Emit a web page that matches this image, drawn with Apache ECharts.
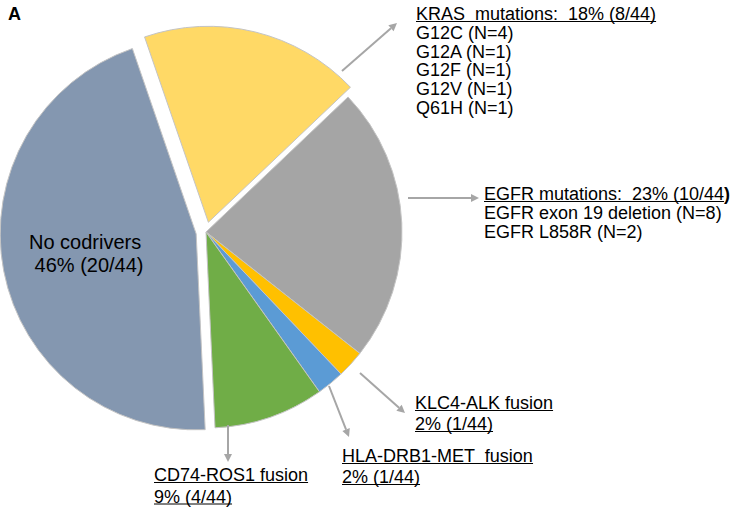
<!DOCTYPE html>
<html>
<head>
<meta charset="utf-8">
<script src="https://cdn.jsdelivr.net/npm/echarts@6/dist/echarts.min.js"></script>
<style>
html, body { margin: 0; padding: 0; background: #fff; }
#chart { width: 736px; height: 509px; }
</style>
</head>
<body>
<div id="chart"></div>
<script>
// slices, clockwise from just left of 12 o'clock
const categories = ['KRAS mutations', 'EGFR mutations', 'KLC4-ALK fusion', 'HLA-DRB1-MET fusion', 'CD74-ROS1 fusion', 'No codrivers'];
const counts = [8, 10, 1, 1, 4, 20];
const exploded = [true, false, false, false, false, true];

// annotation texts
const krasLines = ['KRAS  mutations:  18% (8/44)', 'G12C (N=4)', 'G12A (N=1)', 'G12F (N=1)', 'G12V (N=1)', 'Q61H (N=1)'];
const egfrHead = 'EGFR mutations:  23% (10/44';
const egfrLines = ['EGFR exon 19 deletion (N=8)', 'EGFR L858R (N=2)'];
const alkLines = ['KLC4-ALK fusion', '2% (1/44)'];
const metLines = ['HLA-DRB1-MET  fusion', '2% (1/44)'];
const rosLines = ['CD74-ROS1 fusion', '9% (4/44)'];
const noneLines = ['No codrivers', ' 46% (20/44)'];

const colors = ['#ffd966', '#a5a5a5', '#ffc000', '#5b9bd5', '#70ad47', '#8497b0'];
const FAM = '"Liberation Sans", Arial, sans-serif';
const F18 = '18px ' + FAM;

const measure = document.createElement('canvas').getContext('2d');
function textW(s, font) { measure.font = font; return measure.measureText(s).width; }

function txt(s, x, y, font) {
    return { type: 'text', x: x, y: y, z: 100,
        style: { text: s, font: font, fill: '#000', align: 'left', verticalAlign: 'middle',
                 textAlign: 'left', textVerticalAlign: 'middle' } };
}
function uline(x, y, w) {
    return { type: 'line', z: 100, shape: { x1: x, y1: y + 7.5, x2: x + w, y2: y + 7.5 },
        style: { stroke: '#000', lineWidth: 1 } };
}
// text block, first nUnder lines underlined
function block(lines, x, y, lh, nUnder, font) {
    const out = [];
    lines.forEach(function (s, i) {
        out.push(txt(s, x, y + i * lh, font));
        if (i < nUnder) out.push(uline(x, y + i * lh, textW(s, font)));
    });
    return out;
}
function arrow(x1, y1, x2, y2) {
    const a = Math.atan2(y2 - y1, x2 - x1), L = 8, W = 4;
    const bx = x2 - L * Math.cos(a), by = y2 - L * Math.sin(a);
    return [
        { type: 'line', z: 90, shape: { x1: x1, y1: y1, x2: bx, y2: by }, style: { stroke: '#a6a6a6', lineWidth: 2 } },
        { type: 'polygon', z: 90, shape: { points: [[x2, y2], [bx - W * Math.sin(a), by + W * Math.cos(a)], [bx + W * Math.sin(a), by - W * Math.cos(a)]] },
          style: { fill: '#a6a6a6' } }
    ];
}

let graphics = [];
graphics = graphics.concat(block(krasLines, 416, 14, 18.8, 1, F18));
// EGFR header, the closing bracket is bold
graphics.push({ type: 'text', x: 484, y: 194, z: 100,
    style: { text: '{a|' + egfrHead + '}{b|)}', fill: '#000', verticalAlign: 'middle', textVerticalAlign: 'middle',
             rich: { a: { font: F18, fill: '#000' }, b: { font: 'bold 18px ' + FAM, fill: '#000' } } } });
graphics.push(uline(484, 194, textW(egfrHead, F18)));
graphics = graphics.concat(block(egfrLines, 484, 213, 18.5, 0, F18));
graphics = graphics.concat(block(alkLines, 415, 403, 21, 2, F18));
graphics = graphics.concat(block(metLines, 342, 456, 21, 2, F18));
graphics = graphics.concat(block(rosLines, 154, 475, 21.5, 2, F18));
graphics = graphics.concat(block(noneLines, 29, 242, 23, 0, '20px ' + FAM));

graphics = graphics.concat(arrow(342, 71, 397, 23));
graphics = graphics.concat(arrow(408, 198, 479, 198));
graphics = graphics.concat(arrow(360, 373, 405, 413));
graphics = graphics.concat(arrow(329, 386, 349, 437));
graphics = graphics.concat(arrow(228, 425, 228, 462));

const pieData = categories.map(function (c, i) {
    return { name: c, value: counts[i], selected: exploded[i], itemStyle: { color: colors[i] } };
});

const chart = echarts.init(document.getElementById('chart'), null, { renderer: 'svg' });
chart.setOption({
    animation: false,
    backgroundColor: '#fff',
    title: {
        text: 'A', left: 8, top: 5, padding: 0,
        textStyle: { fontSize: 18, fontWeight: 'bold', fontFamily: FAM, color: '#000' }
    },
    series: [{
        type: 'pie',
        center: [206, 232],
        radius: [0, 196],
        startAngle: 109,
        clockwise: true,
        selectedMode: 'multiple',
        selectedOffset: 10,
        avoidLabelOverlap: false,
        label: { show: false },
        labelLine: { show: false },
        emphasis: { disabled: true },
        itemStyle: { borderColor: '#c4c4c4', borderWidth: 1 },
        data: pieData
    }],
    graphic: { elements: graphics }
});
</script>
</body>
</html>
